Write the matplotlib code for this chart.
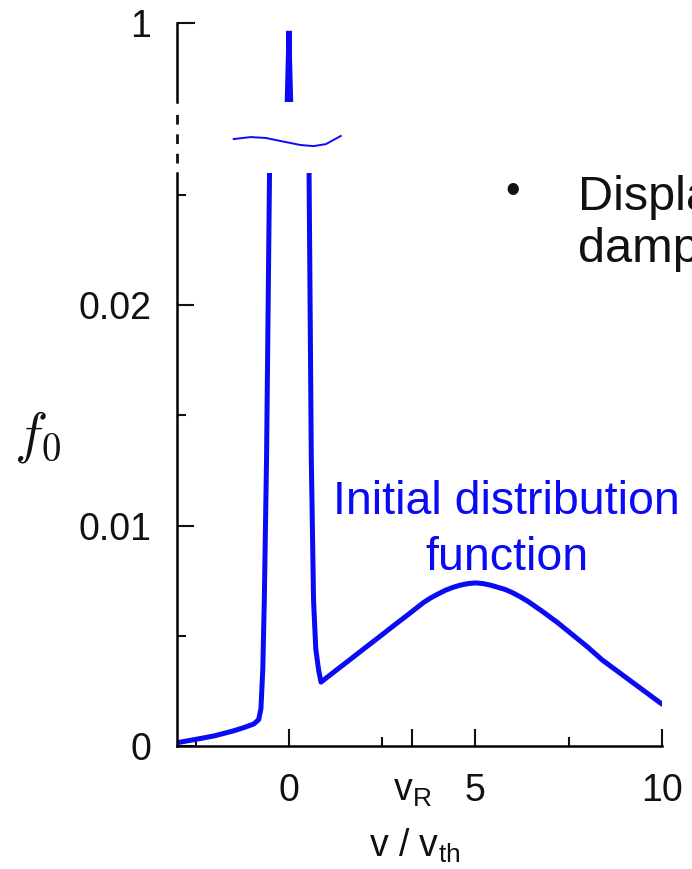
import matplotlib
matplotlib.use("Agg")
import matplotlib.pyplot as plt
from matplotlib.ticker import FixedLocator

plt.rcParams['font.family'] = ['Liberation Sans', 'DejaVu Sans']
plt.rcParams['mathtext.fontset'] = 'custom'
plt.rcParams['mathtext.rm'] = 'Liberation Sans'
plt.rcParams['mathtext.it'] = 'Liberation Sans:italic'

# f0(v): narrow bulk peak at 0 plus a bump at v/vth = 5
v = [-3.0, -2.5, -2.0, -1.5, -1.2, -0.94, -0.81, -0.75, -0.70, -0.66, -0.60, -0.52,
     -0.01, 0.0, 0.01,
     0.54, 0.60, 0.66, 0.72, 0.80, 0.86, 1.2, 1.6, 2.0, 2.4, 2.8, 3.2, 3.6,
     3.8, 4.0, 4.2, 4.4, 4.6, 4.8, 5.0, 5.2, 5.4, 5.6, 5.8, 6.0, 6.2, 6.4, 6.8,
     7.2, 7.6, 8.0, 8.4, 8.8, 9.2, 9.6, 10.0]
f0 = [0.00015, 0.0003, 0.00046, 0.00068, 0.00084, 0.001, 0.0012, 0.0017, 0.0035, 0.0066, 0.013, 0.026,
      0.96, 0.99, 0.96,
      0.026, 0.013, 0.0066, 0.0044, 0.0034, 0.0029, 0.00335, 0.00387, 0.0044, 0.00492, 0.00545, 0.00597, 0.0065,
      0.00672, 0.0069, 0.00707, 0.0072, 0.0073, 0.00737, 0.0074, 0.00737, 0.0073, 0.0072, 0.0071, 0.00695,
      0.00677, 0.00657, 0.0061,
      0.0056, 0.00505, 0.0045, 0.0039, 0.0034, 0.0029, 0.0024, 0.0019]

v_R = 3.3
x_major = [0, v_R, 5, 10]
x_labels = ['0', r'$\mathrm{v_R}$', '5', '10']
x_minor = [-2.5, 2.5, 7.5]
y_major = [0, 0.01, 0.02]
y_labels = ['0', '0.01', '0.02']
y_minor = [0.005, 0.015, 0.025]

# little wiggle marking the break of the y axis
wave_v = [-1.48, -1.03, -0.62, -0.22, 0.31, 0.66, 0.99, 1.39]
wave_f = [0.02754, 0.02763, 0.02759, 0.02745, 0.02727, 0.02722, 0.02731, 0.02768]

blue = '#0a0af5'
W, H = 692, 869

fig = plt.figure(figsize=(W / 100, H / 100), dpi=100)
ax = fig.add_axes([177 / W, 123 / H, 485 / W, 573 / H])
axt = fig.add_axes([177 / W, 767 / H, 485 / W, 79 / H])

# lower part of the broken axis
ax.plot(v, f0, color=blue, lw=3.6, solid_joinstyle='round', solid_capstyle='round')
ax.set_xlim(-3, 10)
ax.set_ylim(0, 0.026)
for s in ['top', 'right']:
    ax.spines[s].set_visible(False)
for s in ['left', 'bottom']:
    ax.spines[s].set_linewidth(1.8)
ax.set_xticks(x_major, labels=x_labels)
ax.xaxis.set_minor_locator(FixedLocator(x_minor))
ax.set_yticks(y_major, labels=y_labels)
ax.yaxis.set_minor_locator(FixedLocator(y_minor))
ax.tick_params(which='both', direction='in', width=1.5, labelsize=27, colors='#111111')
ax.tick_params(which='major', length=12.5)
ax.tick_params(which='minor', length=6.5)
ax.tick_params(axis='y', pad=18.5)
ax.tick_params(axis='x', pad=39.5)
for lbl in ax.get_xticklabels():
    lbl.set_verticalalignment('baseline')

# dashed piece of the spine and the wiggle in the curve
ax.plot([0, 0], [1.017, 1.105], transform=ax.transAxes, clip_on=False,
        color='#111111', lw=2, ls=(0, (3.5, 3.5)))
ax.plot(wave_v, wave_f, color=blue, lw=1.4, clip_on=False)

# upper part, near f0 = 1
axt.plot(v, f0, color=blue, lw=3.8, solid_joinstyle='bevel')
axt.set_xlim(-3, 10)
axt.set_ylim(0.9, 1.0)
for s in ['top', 'right', 'bottom']:
    axt.spines[s].set_visible(False)
axt.spines['left'].set_linewidth(1.8)
axt.set_xticks([])
axt.set_yticks([1.0], labels=['1'])
axt.tick_params(axis='y', direction='in', length=13, width=1.5, labelsize=27,
                pad=18.5, colors='#111111')

# labels
fig.text(38 / W, 1 - 437 / H, '$f_0$', math_fontfamily='cm', fontsize=40,
         ha='center', va='center', color='#111111')
fig.text(415 / W, 1 - 857 / H, r'$\mathrm{v\ /\ v_{th}}$', fontsize=27,
         ha='center', va='baseline', color='#111111')

fig.text(506 / W, 1 - 514 / H, 'Initial distribution', fontsize=33.5, color=blue,
         ha='center', va='baseline')
fig.text(507 / W, 1 - 570 / H, 'function', fontsize=33.5, color=blue,
         ha='center', va='baseline')

fig.text(513 / W, 1 - 192 / H, '\u2022', fontsize=30, ha='center', va='center', color='#111111')
fig.text(578 / W, 1 - 210 / H, 'Displa', fontsize=35, ha='left', va='baseline', color='#111111')
fig.text(578 / W, 1 - 262 / H, 'damp', fontsize=35, ha='left', va='baseline', color='#111111')

fig.savefig('out.png', dpi=100)
